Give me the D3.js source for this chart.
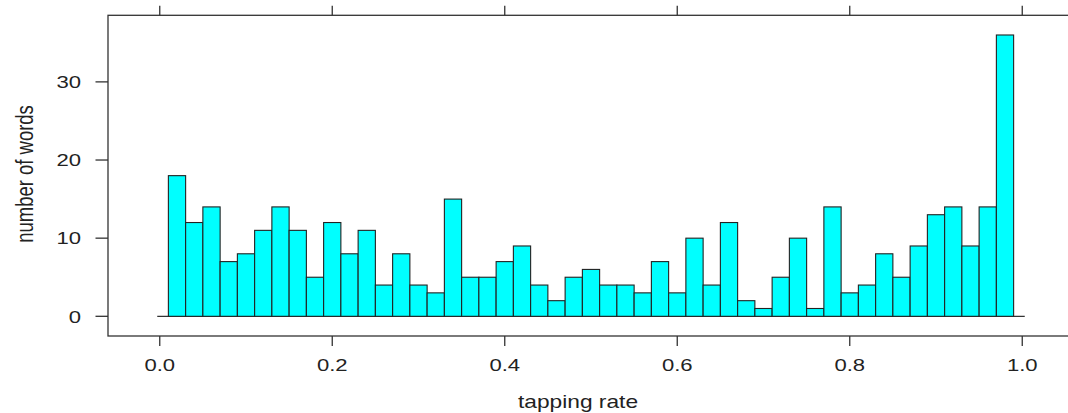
<!DOCTYPE html>
<html>
<head>
<meta charset="utf-8">
<script src="https://cdn.jsdelivr.net/npm/d3@7"></script>
<style>
  body { margin: 0; background: #fff; }
  text { font-family: Arial, "Liberation Sans", sans-serif; fill: #222; }
</style>
</head>
<body>
<div class="histogram"></div>
<script>
// bin lower edges (width 0.02) and word counts per bin
var binStarts = [0.01, 0.03, 0.05, 0.07, 0.09, 0.11, 0.13, 0.15, 0.17, 0.19,
                 0.21, 0.23, 0.25, 0.27, 0.29, 0.31, 0.33, 0.35, 0.37, 0.39,
                 0.41, 0.43, 0.45, 0.47, 0.49, 0.51, 0.53, 0.55, 0.57, 0.59,
                 0.61, 0.63, 0.65, 0.67, 0.69, 0.71, 0.73, 0.75, 0.77, 0.79,
                 0.81, 0.83, 0.85, 0.87, 0.89, 0.91, 0.93, 0.95, 0.97];
var binWidth = 0.02;
var counts = [18, 12, 14, 7, 8, 11, 14, 11, 5, 12,
              8, 11, 4, 8, 4, 3, 15, 5, 5, 7,
              9, 4, 2, 5, 6, 4, 4, 3, 7, 3,
              10, 4, 12, 2, 1, 5, 10, 1, 14, 3,
              4, 8, 5, 9, 13, 14, 9, 14, 36];
var xTicks = [0, 0.2, 0.4, 0.6, 0.8, 1.0];
var yTicks = [0, 10, 20, 30];

var W = 1068, H = 413;
var frame = {left: 108, top: 15.3, right: 1074, bottom: 336};
var stretch = 1.3;  // text in the picture is widened horizontally

var svg = d3.select(".histogram").append("svg")
    .attr("width", W)
    .attr("height", H);

var x = d3.scaleLinear().domain([-0.06, 1.06]).range([frame.left, frame.right]);
var y = d3.scaleLinear().domain([-2.52, 38.52]).range([frame.bottom, frame.top]);

var data = binStarts.map(function (s, i) { return {x0: s, x1: s + binWidth, n: counts[i]}; });

// frame
svg.append("rect")
    .attr("x", frame.left)
    .attr("y", frame.top)
    .attr("width", frame.right - frame.left)
    .attr("height", frame.bottom - frame.top)
    .attr("fill", "none")
    .attr("stroke", "#333")
    .attr("stroke-width", 1.3);

// baseline at zero
svg.append("line")
    .attr("x1", x(0) - 2.5)
    .attr("x2", x(1) + 2.5)
    .attr("y1", y(0))
    .attr("y2", y(0))
    .attr("stroke", "#333")
    .attr("stroke-width", 1.3);

// bars
svg.selectAll(".bar")
    .data(data)
    .enter().append("rect")
    .attr("class", "bar")
    .attr("x", function (d) { return x(d.x0); })
    .attr("width", function (d) { return x(d.x1) - x(d.x0); })
    .attr("y", function (d) { return y(d.n); })
    .attr("height", function (d) { return y(0) - y(d.n); })
    .attr("fill", "#00ffff")
    .attr("stroke", "#222")
    .attr("stroke-width", 1.1);

// x ticks top and bottom
svg.selectAll(".xtick-b")
    .data(xTicks)
    .enter().append("line")
    .attr("x1", function (d) { return x(d); })
    .attr("x2", function (d) { return x(d); })
    .attr("y1", frame.bottom)
    .attr("y2", frame.bottom + 10)
    .attr("stroke", "#333")
    .attr("stroke-width", 1.3);

svg.selectAll(".xtick-t")
    .data(xTicks)
    .enter().append("line")
    .attr("x1", function (d) { return x(d); })
    .attr("x2", function (d) { return x(d); })
    .attr("y1", frame.top)
    .attr("y2", frame.top - 9.5)
    .attr("stroke", "#333")
    .attr("stroke-width", 1.3);

svg.selectAll(".xlab")
    .data(xTicks)
    .enter().append("text")
    .attr("transform", function (d) { return "translate(" + x(d) + ",370.5) scale(" + stretch + ",1)"; })
    .attr("text-anchor", "middle")
    .style("font-size", "17px")
    .text(function (d) { return d3.format(".1f")(d); });

// y ticks on the left
svg.selectAll(".ytick")
    .data(yTicks)
    .enter().append("line")
    .attr("x1", frame.left - 12.5)
    .attr("x2", frame.left)
    .attr("y1", function (d) { return y(d); })
    .attr("y2", function (d) { return y(d); })
    .attr("stroke", "#333")
    .attr("stroke-width", 1.3);

svg.selectAll(".ylab")
    .data(yTicks)
    .enter().append("text")
    .attr("transform", function (d) { return "translate(81," + (y(d) + 6.2) + ") scale(" + stretch + ",1)"; })
    .attr("text-anchor", "end")
    .style("font-size", "17px")
    .text(function (d) { return d; });

// axis titles
svg.append("text")
    .attr("transform", "translate(578,408) scale(" + stretch + ",1)")
    .attr("text-anchor", "middle")
    .style("font-size", "17.5px")
    .text("tapping rate");

svg.append("text")
    .attr("transform", "translate(33,174) scale(" + stretch + ",1) rotate(-90)")
    .attr("text-anchor", "middle")
    .style("font-size", "18.5px")
    .text("number of words");
</script>
</body>
</html>
